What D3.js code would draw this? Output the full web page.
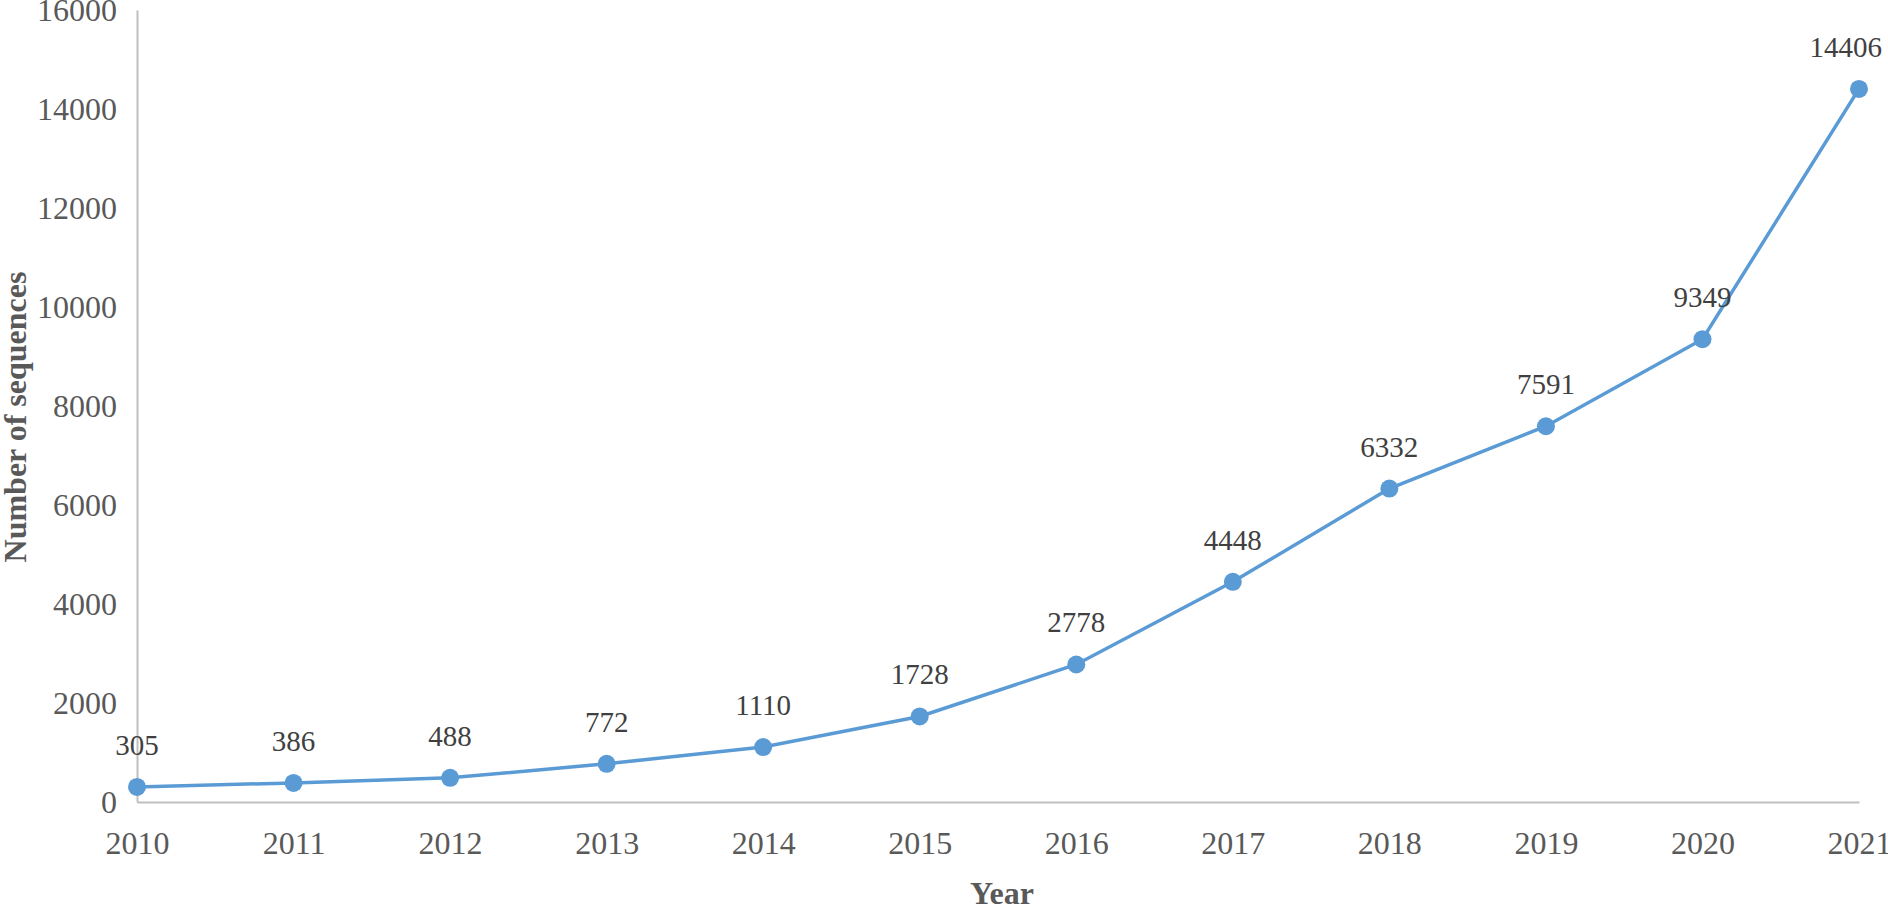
<!DOCTYPE html>
<html>
<head>
<meta charset="utf-8">
<script src="https://d3js.org/d3.v7.min.js"></script>
<style>
  body { margin: 0; background: #fff; }
  text { font-family: "Liberation Serif", "Times New Roman", serif; }
</style>
</head>
<body>
<div id="chart"></div>
<script>
// data
var years = [2010, 2011, 2012, 2013, 2014, 2015, 2016, 2017, 2018, 2019, 2020, 2021];
var counts = [305, 386, 488, 772, 1110, 1728, 2778, 4448, 6332, 7591, 9349, 14406];
var yTicks = [0, 2000, 4000, 6000, 8000, 10000, 12000, 14000, 16000];

var W = 1888, H = 904;
var edge = { top: 10, right: 29, bottom: 102, left: 137 };
var width = W - edge.left - edge.right,
    height = H - edge.top - edge.bottom;

var svg = d3.select("#chart").append("svg")
    .attr("width", W)
    .attr("height", H);

var g = svg.append("g")
    .attr("transform", "translate(" + edge.left + "," + edge.top + ")");

var x = d3.scalePoint().domain(years).range([0, width]);
var y = d3.scaleLinear().domain([0, 16000]).range([height, 0]);

// y axis
var yAxis = g.append("g")
    .call(d3.axisLeft(y).tickValues(yTicks).tickFormat(d3.format("d")).tickSize(0).tickPadding(20));
yAxis.select(".domain").attr("stroke", "#bfbfbf").attr("stroke-width", 2);
yAxis.selectAll("text")
    .attr("fill", "#595959")
    .style("font-size", "32px")
    .attr("dy", "0.34em");

// x axis
var xAxis = g.append("g")
    .attr("transform", "translate(0," + height + ")")
    .call(d3.axisBottom(x).tickSize(0).tickPadding(29));
xAxis.select(".domain").attr("stroke", "#bfbfbf").attr("stroke-width", 2);
xAxis.selectAll("text")
    .attr("fill", "#595959")
    .style("font-size", "32px")
    .attr("dy", "0.71em");

var data = years.map(function(d, i) { return { year: d, value: counts[i] }; });

// line
var line = d3.line()
    .x(function(d) { return x(d.year); })
    .y(function(d) { return y(d.value); });

g.append("path")
    .datum(data)
    .attr("fill", "none")
    .attr("stroke", "#5b9bd5")
    .attr("stroke-width", 3.5)
    .attr("d", line);

g.selectAll(".dot")
    .data(data)
    .enter().append("circle")
    .attr("class", "dot")
    .attr("cx", function(d) { return x(d.year); })
    .attr("cy", function(d) { return y(d.value); })
    .attr("r", 9)
    .attr("fill", "#5b9bd5");

// value labels (kept inside the picture like Excel does)
g.selectAll(".lbl")
    .data(data)
    .enter().append("text")
    .attr("class", "lbl")
    .attr("y", function(d) { return y(d.value) - 32; })
    .attr("text-anchor", "middle")
    .attr("fill", "#404040")
    .style("font-size", "29px")
    .text(function(d) { return d.value; })
    .attr("x", function(d) {
        var cx = x(d.year);
        var half = this.getComputedTextLength() / 2;
        var maxX = W - edge.left - 6 - half;
        return Math.min(cx, maxX);
    });

// axis titles
svg.append("text")
    .attr("x", edge.left + width / 2 + 4)
    .attr("y", 904)
    .attr("text-anchor", "middle")
    .attr("fill", "#595959")
    .style("font-size", "32px")
    .style("font-weight", "bold")
    .text("Year");

svg.append("text")
    .attr("transform", "translate(26," + 417 + ") rotate(-90)")
    .attr("text-anchor", "middle")
    .attr("fill", "#595959")
    .style("font-size", "32px")
    .style("font-weight", "bold")
    .text("Number of sequences");
</script>
</body>
</html>
